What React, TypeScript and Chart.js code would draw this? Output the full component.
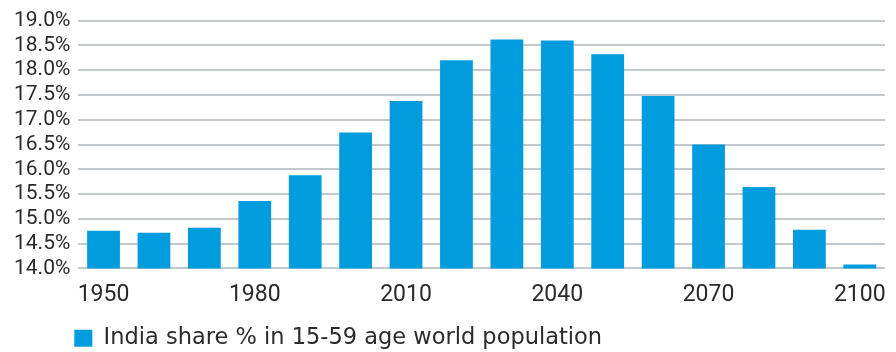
import React, { useEffect, useRef } from "react";
import { Chart, registerables } from "chart.js";

Chart.register(...registerables);

const years: string[] = [
  "1950", "1960", "1970", "1980", "1990", "2000", "2010", "2020",
  "2030", "2040", "2050", "2060", "2070", "2080", "2090", "2100",
];
const indiaShare: number[] = [
  14.76, 14.72, 14.82, 15.36, 15.88, 16.74, 17.38, 18.2,
  18.62, 18.6, 18.32, 17.48, 16.5, 15.64, 14.78, 14.08,
];
const seriesLabel = "India share % in 15-59 age world population";
const yMin = 14;
const yMax = 19;
const yStep = 0.5;

const LEGEND_PAD = 13;

const legendShift = {
  id: "legendShift",
  afterLayout(chart: any) {
    const l = chart.legend;
    if (!l) return;
    const w = l.width;
    l.left = chart.chartArea.left - 4 - LEGEND_PAD;
    l.right = l.left + w;
  },
};

export default function App() {
  const ref = useRef<HTMLCanvasElement | null>(null);

  useEffect(() => {
    document.body.style.margin = "0";
    if (!ref.current) return;
    const chart = new Chart(ref.current, {
      type: "bar",
      data: {
        labels: years,
        datasets: [
          {
            label: seriesLabel,
            data: indiaShare,
            backgroundColor: "#009cde",
            borderWidth: 0,
            barPercentage: 0.65,
            categoryPercentage: 1,
          },
        ],
      },
      options: {
        animation: false,
        responsive: false,
        maintainAspectRatio: false,
        layout: { padding: { left: 6, right: 11, top: 6, bottom: -7.5 } },
        plugins: {
          tooltip: { enabled: false },
          legend: {
            position: "bottom",
            align: "start",
            fullSize: false,
            labels: {
              boxWidth: 18,
              boxHeight: 17,
              padding: LEGEND_PAD,
              color: "#2b2b2b",
              font: { family: "'DejaVu Sans'", size: 22.5 },
            },
          },
        },
        scales: {
          x: {
            grid: { display: false },
            border: { display: false },
            ticks: {
              autoSkip: false,
              maxRotation: 0,
              padding: 5,
              color: "#2b2b2b",
              font: { family: "Roboto", size: 23 },
              callback: (_v: any, i: number) => (i % 3 === 0 ? years[i] : ""),
            },
          },
          y: {
            min: yMin,
            max: yMax,
            border: { display: false },
            grid: { color: "#c3c8cc", lineWidth: 2, drawTicks: false },
            ticks: {
              autoSkip: false,
              stepSize: yStep,
              padding: 8,
              color: "#2b2b2b",
              font: { family: "Roboto", size: 21 },
              callback: (v: any) => Number(v).toFixed(1) + "%",
            },
          },
        },
      },
      plugins: [legendShift],
    });
    return () => chart.destroy();
  }, []);

  return <canvas ref={ref} width={896} height={352} style={{ display: "block" }} />;
}
